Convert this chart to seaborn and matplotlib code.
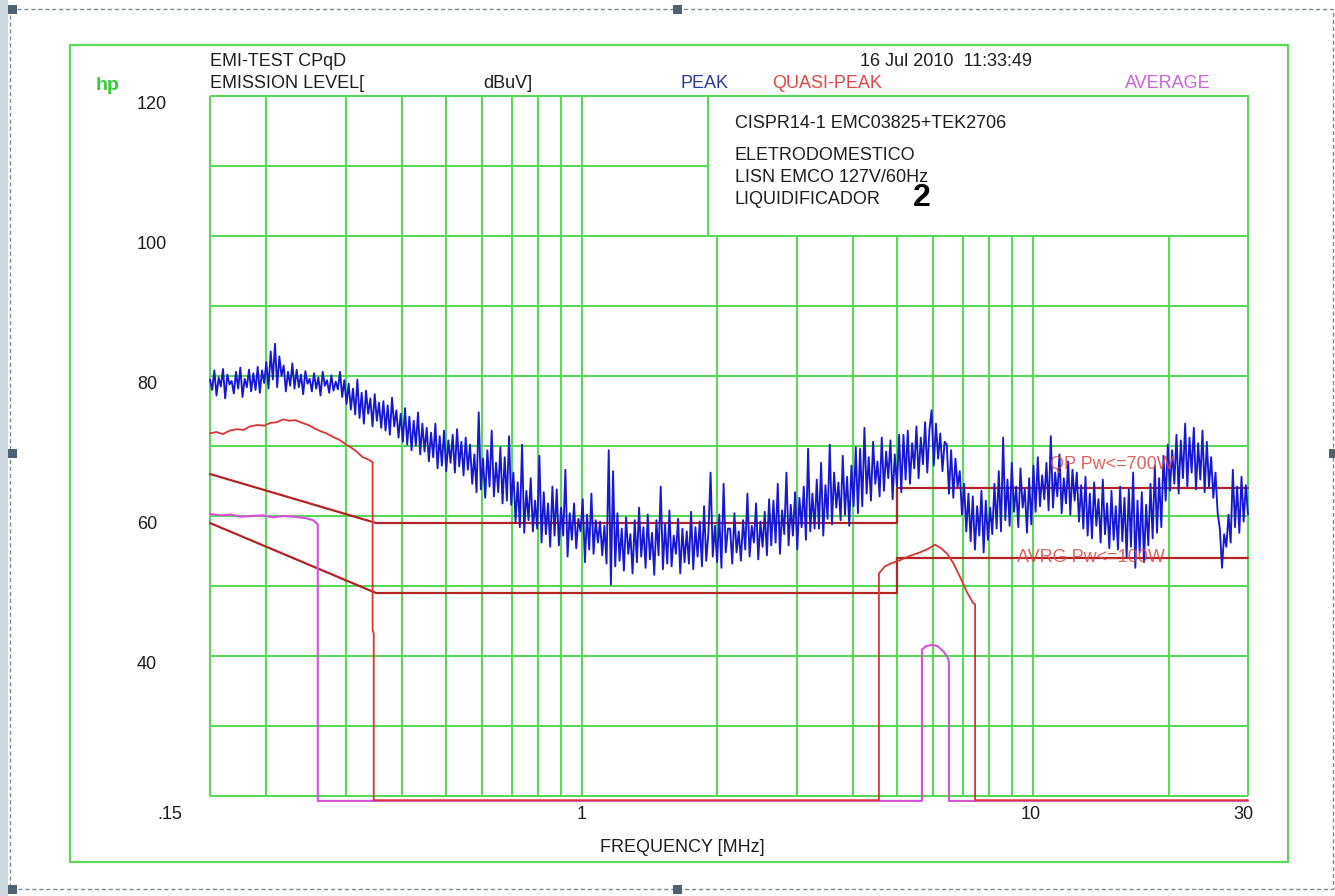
import numpy as np
import pandas as pd
import matplotlib
matplotlib.use("Agg")
import matplotlib.pyplot as plt
import matplotlib.transforms as mtransforms
from matplotlib.patches import Rectangle
import seaborn as sns

# ---------------- data ----------------
grid_freq_mhz = [0.2, 0.3, 0.4, 0.5, 0.6, 0.7, 0.8, 0.9, 1, 2, 3, 4, 5, 6, 7, 8, 9, 10, 20]
grid_levels = [20, 30, 40, 50, 60, 70, 80, 90, 100, 110, 120]
x_ticks = [0.15, 1, 10, 30]
x_tick_labels = [".15", "1", "10", "30"]
y_ticks = [40, 60, 80, 100, 120]
y_tick_labels = ["40", "60", "80", "100", "120"]

# PEAK sweep (dBuV), sweep points equally spaced (log) 0.15..30 MHz
peak_levels = [
    79.5, 78, 80.8, 77.2, 79.8, 78.5, 81, 76.8, 80.2, 78.8, 79.3, 77.5, 80.6, 78.2, 81.2, 77, 79.6, 78.4, 80.9, 77.8,
    80.4, 78, 81.3, 77.6, 80.8, 79, 82, 78.2, 83.5, 79.5, 84.6, 78.4, 82.8, 80, 81.5, 77.8, 80.6, 78.6, 81.8, 78.2,
    80.9, 78.4, 80.2, 77.4, 80.7, 78.9, 79.6, 77.8, 80.4, 78.2, 79.8, 77.2, 80.6, 78.6, 79.4, 77.6, 80.1, 77.9, 79.2, 78.1,
    80.6, 77, 79.4, 76, 78.9, 75.2, 78.2, 74.5, 79.5, 74, 77.6, 73.2, 77.9, 74.6, 76.8, 72.8, 77.4, 73.6, 76.2, 72.6,
    76.4, 72.2, 75.8, 71.6, 76.9, 72.8, 75.1, 71.2, 74.6, 70.6, 75.4, 70.2, 74.2, 69.4, 73.6, 70.1, 74.8, 68.8, 73.2, 69.2,
    72.6, 67.8, 71.9, 68.4, 73.2, 66.8, 71.4, 67.2, 72.2, 66.4, 70.8, 67.6, 71.6, 66.2, 72.4, 67.1, 70.6, 65.8, 71.2, 66.6,
    70.2, 64.6, 68.8, 63.4, 74.8, 63.8, 68.2, 62.6, 69.4, 64.2, 72.2, 62.8, 67.6, 63.4, 69.8, 61.8, 68.4, 62.2, 71.4, 61.6,
    66.2, 59.2, 64.8, 58.4, 70.2, 57.6, 63.6, 59.4, 65.4, 57.8, 62.2, 58.2, 68.6, 56.2, 63.4, 57.4, 61.8, 55.6, 64.2, 57.2,
    63.8, 55.8, 61.2, 57.2, 66.6, 54.2, 60.4, 56.6, 61.8, 55.4, 59.6, 57.8, 62.4, 53.4, 60.2, 55.2, 63.2, 54.6, 59.4, 56.2,
    59.2, 54.4, 58.6, 53.2, 69.4, 50.2, 66.4, 52.8, 60.4, 53.6, 58.2, 52.2, 59.8, 54.6, 57.4, 51.8, 59.4, 53.4, 61.2, 54.2,
    58.4, 52.6, 60.2, 53.8, 57.6, 51.6, 59.4, 54.4, 64.2, 52.4, 58.8, 53.2, 60.8, 52.8, 57.2, 54.6, 59.6, 51.8, 58.2, 53.4,
    57.8, 53.2, 60.6, 52.4, 58.4, 54.2, 59.2, 52.8, 61.4, 53.6, 57.6, 66.2, 54.2, 58.6, 53.4, 60.2, 52.6, 64.6, 54.8, 58.2,
    58.2, 53.2, 60.4, 54.8, 57.8, 53.6, 59.4, 55.2, 63.2, 54.2, 58.6, 56.2, 61.8, 53.8, 59.2, 55.6, 60.6, 54.4, 62.4, 55.8,
    62.2, 56.2, 64.6, 54.6, 60.8, 57.4, 66.2, 55.8, 61.6, 57.2, 63.4, 55.2, 62.6, 58.4, 64.2, 56.6, 69.6, 57.8, 63.2, 58.2,
    65.2, 58.2, 67.6, 57.2, 64.4, 59.6, 70.2, 58.8, 66.2, 61.2, 64.8, 59.4, 68.6, 60.2, 65.6, 58.6, 67.2, 61.4, 69.8, 60.4,
    69.6, 61.4, 72.6, 63.2, 68.4, 62.2, 70.6, 64.6, 67.8, 62.8, 71.2, 63.6, 69.2, 65.4, 70.8, 62.4, 68.8, 64.2, 71.6, 63.4,
    71.6, 65.2, 72.2, 64.6, 70.4, 66.8, 72.8, 65.4, 71.2, 67.4, 73.4, 66.2, 72.4, 75.1, 67.2, 73.2, 68.2, 71.8, 66.4, 70.6,
    70.2, 63.2, 69.4, 62.6, 68.2, 64.2, 66.4, 60.2, 64.6, 57.8, 63.2, 56.4, 62.8, 55.2, 61.4, 57.2, 63.6, 54.8, 62.2, 56.6,
    61.2, 57.4, 64.6, 58.2, 66.4, 57.8, 71.2, 59.4, 65.2, 58.6, 67.6, 60.6, 64.2, 58.4, 66.8, 61.2, 63.8, 57.6, 65.4, 58.8,
    67.2, 60.6, 68.4, 61.4, 65.8, 62.4, 67.6, 60.8, 71.4, 61.2, 66.2, 62.8, 68.8, 60.4, 65.4, 61.8, 67.8, 60.2, 66.6, 62.2,
    66.2, 59.2, 64.4, 58.2, 65.6, 57.2, 63.2, 56.8, 64.8, 58.6, 62.4, 56.2, 65.2, 57.4, 61.8, 55.4, 63.6, 56.6, 61.4, 55.2,
    64.2, 56.4, 62.6, 54.2, 63.8, 55.6, 66.2, 52.6, 62.2, 54.8, 63.4, 53.4, 61.6, 55.8, 64.6, 56.8, 67.2, 57.6, 65.4, 58.4,
    68.6, 62.2, 70.2, 63.6, 69.4, 64.6, 71.6, 63.2, 70.8, 65.4, 73.2, 64.2, 71.2, 66.2, 72.6, 63.8, 70.4, 65.2, 72.2, 63.4,
    70.6, 64.2, 68.4, 62.6, 66.2, 60.4, 58.2, 52.6, 57.4, 55.6, 60.2, 56.2, 66.6, 58.4, 64.2, 57.6, 65.6, 59.2, 64.4, 60.2,
]
peak_freq_mhz = np.geomspace(0.15, 30, len(peak_levels))

# QUASI-PEAK measurement
qp_freq_mhz = [0.150, 0.155, 0.160, 0.166, 0.172, 0.178, 0.184, 0.191, 0.198, 0.204,
               0.211, 0.218, 0.225, 0.232, 0.240, 0.248, 0.256, 0.264, 0.272, 0.281,
               0.290, 0.299, 0.308, 0.317, 0.327, 0.336, 0.344, 0.344, 0.346, 0.346,
               4.56, 4.56, 4.70, 4.84, 5.08, 5.34, 5.62, 5.86, 6.07, 6.26,
               6.46, 6.66, 6.90, 7.15, 7.37, 7.45, 7.45, 30]
qp_level = [71.8, 72.0, 71.7, 72.2, 72.4, 72.3, 72.8, 73.0, 72.9, 73.3,
            73.4, 73.8, 73.6, 73.7, 73.3, 73.0, 72.5, 72.1, 71.8, 71.3,
            70.9, 70.3, 69.8, 69.2, 68.4, 68.1, 67.7, 43.7, 43.2, 19.4,
            19.4, 51.8, 52.8, 53.2, 53.7, 54.3, 54.8, 55.3, 55.9, 55.4,
            54.6, 53.3, 51.3, 49.1, 47.6, 47.4, 19.4, 19.4]

# AVERAGE measurement
av_freq_mhz = [0.150, 0.158, 0.167, 0.176, 0.186, 0.196, 0.207, 0.218, 0.230, 0.244,
               0.254, 0.260, 0.260, 5.68, 5.68, 5.80, 6.00, 6.15, 6.35, 6.50,
               6.52, 6.52, 30]
av_level = [60.3, 60.1, 60.2, 59.9, 60.0, 60.1, 59.8, 60.0, 59.9, 59.7,
            59.4, 58.8, 19.3, 19.3, 40.9, 41.4, 41.6, 41.4, 40.6, 39.6,
            39.0, 19.3, 19.3]

# CISPR 14-1 limits (Pw <= 700 W)
limit_freq_mhz = [0.15, 0.35, 5, 5, 30]
qp_limit_level = [66, 59, 59, 64, 64]
av_limit_level = [59, 49, 49, 54, 54]

# ---------------- styling ----------------
sns.set_theme(style="white")
plt.rcParams["font.family"] = ["Liberation Sans", "DejaVu Sans"]

W, H = 1335, 896
fig = plt.figure(figsize=(W / 100, H / 100), dpi=100)
fig.patch.set_facecolor("white")

GREEN = "#5ad85a"
BLUE = "#1818d2"
RED = "#dc3434"
DKRED = "#b42424"
MAG = "#d651dc"
TXT = "#1e1e1e"

# background (screenshot frame) axes in pixel coordinates
bg = fig.add_axes([0, 0, 1, 1], zorder=0)
bg.set_xlim(0, W)
bg.set_ylim(H, 0)
bg.axis("off")
bg.add_patch(Rectangle((0, 0), 8, H, color="#cdd9df", lw=0))
bg.add_patch(Rectangle((10, 9), 1323, 880, fill=False, ec="#7d8c99", lw=1.0,
                       ls=(0, (3, 2))))
for hx, hy in [(8, 5), (673, 5), (8, 449), (1329, 449), (8, 885), (673, 885)]:
    bg.add_patch(Rectangle((hx, hy), 9, 9, color="#4e6272", lw=0))
bg.add_patch(Rectangle((70, 45), 1218, 817, fill=False, ec=GREEN, lw=1.6))

bg.text(96, 85, "hp", color="#33cc33", fontsize=14, fontweight="bold", va="center")
bg.text(210, 62, "EMI-TEST CPqD", color=TXT, fontsize=13, va="center")
bg.text(210, 83, "EMISSION LEVEL[", color=TXT, fontsize=13, va="center")
bg.text(483, 83, "dBuV]", color=TXT, fontsize=13, va="center")
bg.text(860, 62, "16 Jul 2010  11:33:49", color=TXT, fontsize=13, va="center")
bg.text(680, 83, "PEAK", color="#2a3a9e", fontsize=13, va="center")
bg.text(772, 83, "QUASI-PEAK", color="#e04848", fontsize=13, va="center")
bg.text(1125, 83, "AVERAGE", color="#cc60dd", fontsize=13, va="center")
bg.text(682, 848, "FREQUENCY [MHz]", color=TXT, fontsize=13, ha="center", va="center")

# main plot axes: x 210..1248 px, 120 dB at y=96, 19 dB at y=803
ax = fig.add_axes([210 / W, 1 - 803 / H, 1038 / W, 707 / H], zorder=2)
ax.patch.set_alpha(0)
ax.set_xscale("log")
ax.set_xlim(0.15, 30)
ax.set_ylim(19, 120)
for s in ax.spines.values():
    s.set_visible(False)
ax.grid(False)

# grid
ax.vlines(grid_freq_mhz + [0.15, 30], 20, 120, colors=GREEN, lw=1.5, zorder=1, clip_on=False)
ax.hlines(grid_levels, 0.15, 30, colors=GREEN, lw=1.5, zorder=1, clip_on=False)

# info box
ax.add_patch(Rectangle((1.905, 100), 30 - 1.905, 20, facecolor="white", edgecolor=GREEN,
                       lw=1.5, zorder=3, clip_on=False))
bg2 = fig.add_axes([0, 0, 1, 1], zorder=4)
bg2.set_xlim(0, W)
bg2.set_ylim(H, 0)
bg2.axis("off")
bg2.patch.set_alpha(0)
for ty, t in [(124, "CISPR14-1 EMC03825+TEK2706"), (155, "ELETRODOMESTICO"),
              (177, "LISN EMCO 127V/60Hz"), (200, "LIQUIDIFICADOR")]:
    bg2.text(735, ty, t, color=TXT, fontsize=13, va="center")
bg2.text(922, 198, "2", color="black", fontsize=23, fontweight="bold", ha="center", va="center")

# limits
sns.lineplot(x=limit_freq_mhz, y=qp_limit_level, ax=ax, color=DKRED, lw=1.6,
             sort=False, estimator=None, zorder=5)
sns.lineplot(x=limit_freq_mhz, y=av_limit_level, ax=ax, color=DKRED, lw=1.6,
             sort=False, estimator=None, zorder=5)

# measurements
sns.lineplot(x=peak_freq_mhz, y=peak_levels, ax=ax, color=BLUE, lw=1.35,
             sort=False, estimator=None, zorder=6)
sns.lineplot(x=av_freq_mhz, y=av_level, ax=ax, color=MAG, lw=1.5,
             sort=False, estimator=None, zorder=7)
sns.lineplot(x=qp_freq_mhz, y=qp_level, ax=ax, color=RED, lw=1.3,
             sort=False, estimator=None, zorder=8)
for ln in ax.get_lines():
    ln.set_clip_on(False)

ax.text(10.9, 67.3, "QP Pw<=700W", color="#d84848", alpha=0.85, fontsize=13,
        va="center", zorder=9)
ax.text(9.23, 54.1, "AVRG Pw<=100W", color="#d84848", alpha=0.85, fontsize=13,
        va="center", zorder=9)

# ticks
ax.set_xticks(x_ticks, x_tick_labels)
ax.set_yticks(y_ticks, y_tick_labels)
ax.minorticks_off()
ax.tick_params(axis="x", length=0, pad=2, labelsize=13, labelcolor=TXT)
ax.tick_params(axis="y", length=0, pad=52.5, labelsize=13, labelcolor=TXT)
for lab in ax.get_yticklabels():
    lab.set_horizontalalignment("left")
    lab.set_verticalalignment("top")
xoff = {".15": -40, "30": -5, "10": -2}
for lab in ax.get_xticklabels():
    dx = xoff.get(lab.get_text(), 0)
    if dx:
        lab.set_transform(lab.get_transform() +
                          mtransforms.ScaledTranslation(dx / 100, 0, fig.dpi_scale_trans))

fig.savefig("out.png", dpi=100)
